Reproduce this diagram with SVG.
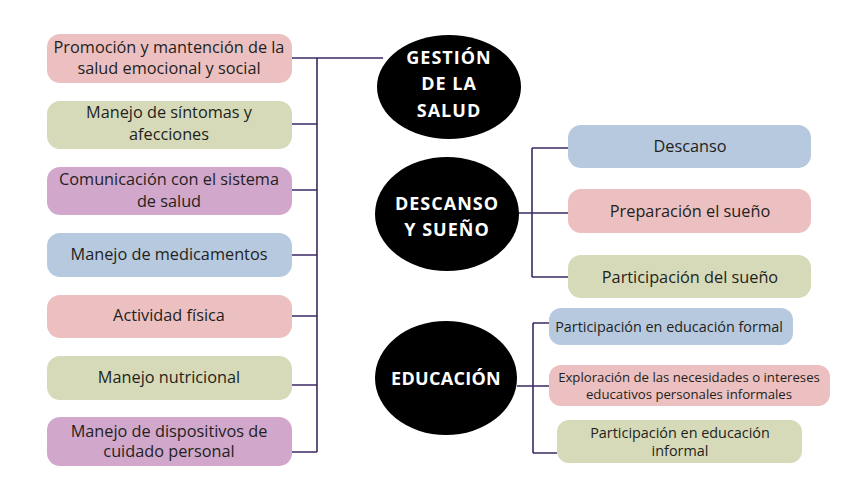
<svg xmlns="http://www.w3.org/2000/svg" width="848" height="477" viewBox="0 0 848 477">
<style>
.pk{fill:#ecc0c1}.gr{fill:#d6dab8}.pu{fill:#d1a8cc}.bl{fill:#b6c9df}
.t{font-family:"Open Sans","Liberation Sans",sans-serif;font-size:16.3px;fill:#231f20;text-anchor:middle}
.s{font-size:14.4px}.xs{font-size:13.2px}
.h{font-family:"Open Sans","Liberation Sans",sans-serif;font-weight:bold;font-size:18px;fill:#fff;text-anchor:middle;letter-spacing:1px}
.c{fill:none;stroke:#3b2a63;stroke-width:1.6}
</style>
<rect width="848" height="477" fill="#fff"/>
<g id="connectors" class="c">
<path d="M292 58H383M317 58V452M292 124H317M292 190H317M292 255H317M292 316H317M292 385H317M292 452H317"/>
<path d="M518 213H568M532 148V277M532 148H568M532 277H568"/>
<path d="M517 386H549M533 323V453M533 323H549M533 453H557"/>
</g>
<g id="l1"><rect class="pk" x="47" y="34" width="245" height="49" rx="13"/><text class="t" x="169" y="53">Promoción y mantención de la</text><text class="t" x="169" y="74">salud emocional y social</text></g>
<g id="l2"><rect class="gr" x="47" y="101" width="245" height="48" rx="13"/><text class="t" x="169" y="118">Manejo de síntomas y</text><text class="t" x="169" y="140">afecciones</text></g>
<g id="l3"><rect class="pu" x="47" y="167" width="245" height="48" rx="13"/><text class="t" x="169" y="185">Comunicación con el sistema</text><text class="t" x="169" y="207">de salud</text></g>
<g id="l4"><rect class="bl" x="47" y="233" width="245" height="44" rx="13"/><text class="t" x="169" y="260">Manejo de medicamentos</text></g>
<g id="l5"><rect class="pk" x="47" y="295" width="245" height="43" rx="13"/><text class="t" x="169" y="321">Actividad física</text></g>
<g id="l6"><rect class="gr" x="47" y="356" width="245" height="44" rx="13"/><text class="t" x="169" y="383">Manejo nutricional</text></g>
<g id="l7"><rect class="pu" x="47" y="417" width="245" height="49" rx="13"/><text class="t" x="169" y="437">Manejo de dispositivos de</text><text class="t" x="169" y="457">cuidado personal</text></g>
<g id="gestion"><ellipse cx="449" cy="87" rx="72" ry="52" fill="#000"/><text class="h" x="449" y="64">GESTIÓN</text><text class="h" x="449" y="90">DE LA</text><text class="h" x="449" y="117">SALUD</text></g>
<g id="descanso_sueno"><ellipse cx="447" cy="214" rx="72" ry="57" fill="#000"/><text class="h" x="447" y="210">DESCANSO</text><text class="h" x="447" y="236">Y SUEÑO</text></g>
<g id="educacion"><ellipse cx="446" cy="378" rx="71" ry="57" fill="#000"/><text class="h" x="446" y="385" style="letter-spacing:0.3px">EDUCACIÓN</text></g>
<g id="r1"><rect class="bl" x="568" y="125" width="243" height="43" rx="13"/><text class="t" x="690" y="152">Descanso</text></g>
<g id="r2"><rect class="pk" x="568" y="189" width="243" height="44" rx="13"/><text class="t" x="690" y="217">Preparación el sueño</text></g>
<g id="r3"><rect class="gr" x="568" y="255" width="243" height="43" rx="13"/><text class="t" x="690" y="283">Participación del sueño</text></g>
<g id="e1"><rect class="bl" x="549" y="308" width="244" height="37" rx="12"/><text class="t s" x="669" y="332">Participación en educación formal</text></g>
<g id="e2"><rect class="pk" x="549" y="365" width="281" height="41" rx="12"/><text class="t xs" x="689" y="382">Exploración de las necesidades o intereses</text><text class="t xs" x="689" y="399">educativos personales informales</text></g>
<g id="e3"><rect class="gr" x="557" y="420" width="245" height="43" rx="12"/><text class="t s" x="680" y="438">Participación en educación</text><text class="t s" x="680" y="456">informal</text></g>
</svg>
